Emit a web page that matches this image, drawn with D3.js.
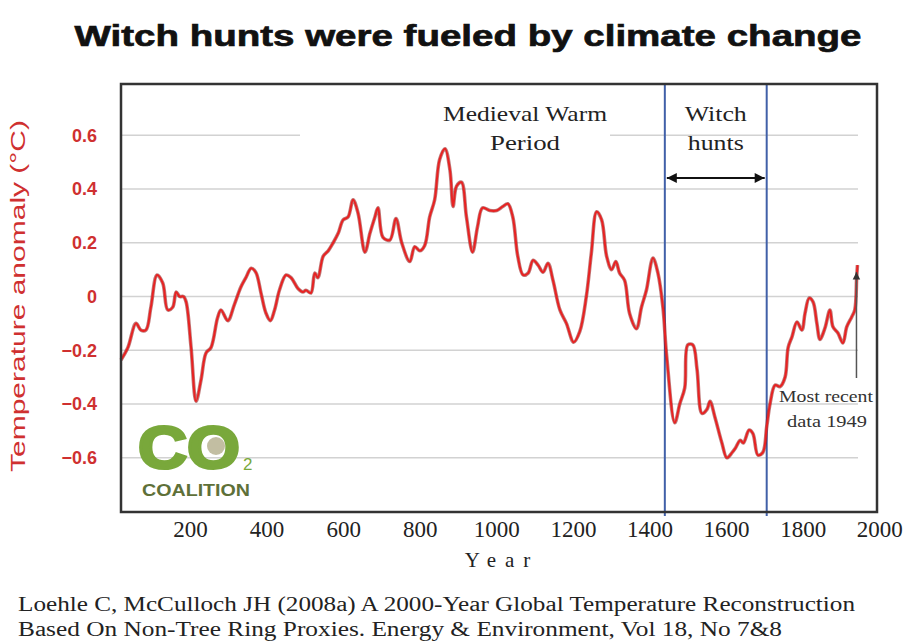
<!DOCTYPE html>
<html>
<head>
<meta charset="utf-8">
<script src="https://cdn.jsdelivr.net/npm/d3@7"></script>
<style>
  body { margin: 0; background: #fff; }
  svg { display: block; }
</style>
</head>
<body>
<div id="wrapper"></div>
<script>
// Loehle & McCulloch reconstruction
let years = [20,38,59,72,85,98,114,129,142,155,164,173,183,190,203,216,229,242,255,272,
  281,299,316,333,346,360,372,386,398,410,421,434,451,464,482,495,503,516,
  526,534,548,561,574,587,600,613,626,639,657,670,683,691,704,722,738,753,774,787,
  800,813,826,839,852,866,879,887,896,909,922,938,951,964,983,1001,1017,
  1030,1043,1056,1070,1083,1096,1109,1122,1135,1148,1166,1183,1202,1218,1235,1248,1262,1275,1288,1301,
  1312,1322,1335,1348,1366,1379,1392,1409,1422,1435,
  1445,1466,1479,1492,1500,1513,1524,1537,1550,1558,1571,1589,1602,1616,1624,1637,1645,1660,1670,1683,
  1696,1706,1715,1728,1741,1754,1762,1772,1785,1798,1806,1817,1827,1837,1845,1858,1871,1879,1892,1905,
  1915,1928,1936,1941,1943];
let anomaly = [-0.236,-0.19,-0.10,-0.125,-0.125,-0.04,0.08,0.05,-0.05,-0.04,0.017,0,0,-0.02,-0.19,-0.39,-0.31,-0.21,-0.19,-0.08,
  -0.05,-0.09,-0.03,0.035,0.07,0.105,0.09,0.01,-0.06,-0.09,-0.05,0.025,0.08,0.07,0.03,0.017,0.023,0.013,
  0.087,0.07,0.15,0.17,0.2,0.235,0.285,0.296,0.36,0.31,0.165,0.235,0.296,0.33,0.22,0.21,0.29,0.2,0.13,0.185,
  0.17,0.19,0.296,0.36,0.51,0.55,0.47,0.335,0.41,0.425,0.296,0.165,0.26,0.33,0.32,0.32,0.335,
  0.345,0.296,0.15,0.08,0.087,0.135,0.117,0.09,0.124,0.06,-0.05,-0.1,-0.17,-0.13,0,0.16,0.315,0.285,0.15,0.1,
  0.13,0.087,0.06,-0.063,-0.12,-0.04,0.024,0.143,0.087,-0.04,
  -0.225,-0.47,-0.4,-0.34,-0.18,-0.18,-0.27,-0.435,-0.42,-0.39,-0.45,-0.545,-0.6,-0.58,-0.565,-0.535,-0.545,-0.497,-0.51,-0.59,
  -0.58,-0.485,-0.397,-0.33,-0.335,-0.3,-0.19,-0.15,-0.095,-0.125,-0.063,-0.006,-0.02,-0.1,-0.16,-0.118,-0.05,-0.113,-0.136,-0.173,
  -0.113,-0.076,-0.05,0.073,0.117];

let xTicks = [200,400,600,800,1000,1200,1400,1600,1800,2000];
let yTicks = [-0.6,-0.4,-0.2,0,0.2,0.4,0.6];
let witchHunts = [1440,1706];
let lastYear = 1943;

let W = 907, H = 644;
let pLeft = 121, pRight = 877, pTop = 84, pBottom = 512;

let svg = d3.select('#wrapper').append('svg')
  .attr('width', W).attr('height', H);

let xscale = d3.scaleLinear().domain([20,1994]).range([pLeft,pRight]);
let yscale = d3.scaleLinear().domain([-0.8,0.8]).range([511.5,81.5]);

let serif = '"Liberation Serif","Times New Roman",serif';
let sans = '"Liberation Sans",Arial,sans-serif';
let red = '#cf3030';

// title
svg.append('text')
  .attr('x', 468).attr('y', 46)
  .attr('text-anchor','middle')
  .attr('textLength', 787).attr('lengthAdjust','spacingAndGlyphs')
  .style('font-family', sans).style('font-weight','bold').style('font-size','30px')
  .style('fill','#111').style('stroke','#111').style('stroke-width',0.7)
  .text('Witch hunts were fueled by climate change');

// gridlines
svg.append('g').selectAll('line')
  .data(yTicks).enter().append('line')
  .attr('x1', pLeft).attr('x2', 858)
  .attr('y1', d => yscale(d)).attr('y2', d => yscale(d))
  .style('stroke','#d2d2d2').style('stroke-width',1.5);

// gap in the top gridline behind the label
svg.append('rect')
  .attr('x', 300).attr('y', yscale(0.6) - 4).attr('width', 310).attr('height', 8)
  .style('fill','#fff');

// y axis labels
let yAxis = d3.axisLeft(yscale).tickValues(yTicks).tickSize(0).tickPadding(0)
  .tickFormat(d => d === 0 ? '0' : d3.format('.1f')(d));
let yg = svg.append('g').attr('transform','translate(97,0)').call(yAxis);
yg.select('.domain').remove();
yg.selectAll('text')
  .style('font-family', sans).style('font-weight','bold').style('font-size','18px')
  .style('fill', red);

svg.append('text')
  .attr('transform','translate(25,296) rotate(-90)')
  .attr('text-anchor','middle')
  .attr('textLength', 352).attr('lengthAdjust','spacingAndGlyphs')
  .style('font-family', sans).style('font-size','20px').style('fill', red)
  .text('Temperature anomaly (°C)');

// x axis labels
let xAxis = d3.axisBottom(xscale).tickValues(xTicks).tickSize(0).tickPadding(0)
  .tickFormat(d3.format('d'));
let xg = svg.append('g').attr('transform','translate(0,' + (pBottom + 9) + ')').call(xAxis);
xg.select('.domain').remove();
xg.selectAll('text')
  .style('font-family', serif).style('font-size','23px').style('fill','#222');

svg.append('text')
  .attr('x', 502).attr('y', 567)
  .attr('text-anchor','middle')
  .style('font-family', serif).style('font-size','21px').style('letter-spacing','9px')
  .style('fill','#222')
  .text('Year');

// logo
let logo = svg.append('g');
logo.append('text')
  .attr('x', 138).attr('y', 468)
  .attr('textLength', 102).attr('lengthAdjust','spacingAndGlyphs')
  .style('font-family', sans).style('font-weight','bold').style('font-size','60px')
  .style('fill','#79a83b').style('stroke','#79a83b').style('stroke-width',3)
  .text('CO');
logo.append('circle')
  .attr('cx', 216).attr('cy', 446).attr('r', 9)
  .style('fill','#a8a27a').style('opacity',0.7);
logo.append('text')
  .attr('x', 243).attr('y', 470)
  .style('font-family', sans).style('font-size','17px')
  .style('fill','#79a83b')
  .text('2');
logo.append('text')
  .attr('x', 142).attr('y', 496)
  .attr('textLength', 108).attr('lengthAdjust','spacingAndGlyphs')
  .style('font-family', sans).style('font-weight','bold').style('font-size','16px')
  .style('fill','#5e7038')
  .text('COALITION');

// witch hunt bounds
svg.append('g').selectAll('line')
  .data(witchHunts).enter().append('line')
  .attr('x1', d => xscale(d)).attr('x2', d => xscale(d))
  .attr('y1', pTop).attr('y2', pBottom + 4)
  .style('stroke','#4160a8').style('stroke-width',2);

// temperature curve
let points = years.map((y,i) => [y, anomaly[i]]);
let line = d3.line()
  .x(d => xscale(d[0])).y(d => yscale(d[1]))
  .curve(d3.curveCatmullRom.alpha(0.5));
svg.append('path')
  .datum(points)
  .attr('d', line)
  .style('fill','none').style('stroke','#8a1010').style('stroke-width',3.6)
  .style('stroke-linejoin','round').style('opacity',0.55);
svg.append('path')
  .datum(points)
  .attr('d', line)
  .style('fill','none').style('stroke','#e82222').style('stroke-width',2)
  .style('stroke-linejoin','round');

// arrow heads
let defs = svg.append('defs');
defs.append('marker')
  .attr('id','ah').attr('viewBox','0 0 10 10')
  .attr('refX',10).attr('refY',5)
  .attr('markerWidth',6).attr('markerHeight',5).attr('markerUnits','strokeWidth')
  .attr('orient','auto-start-reverse')
  .append('path').attr('d','M0,0L10,5L0,10z').style('fill','#111');
defs.append('marker')
  .attr('id','ah2').attr('viewBox','0 0 10 10')
  .attr('refX',10).attr('refY',5)
  .attr('markerWidth',5).attr('markerHeight',6).attr('markerUnits','strokeWidth')
  .attr('orient','auto')
  .append('path').attr('d','M0,0L10,5L0,10z').style('fill','#333');

// witch hunts annotation
svg.append('line')
  .attr('x1', xscale(witchHunts[0]) + 2).attr('x2', xscale(witchHunts[1]) - 2)
  .attr('y1', 178).attr('y2', 178)
  .style('stroke','#111').style('stroke-width',2)
  .attr('marker-start','url(#ah)').attr('marker-end','url(#ah)');

let mid = (xscale(witchHunts[0]) + xscale(witchHunts[1])) / 2;
svg.append('text').attr('x', mid).attr('y', 121).attr('text-anchor','middle')
  .attr('textLength', 62).attr('lengthAdjust','spacingAndGlyphs')
  .style('font-family', serif).style('font-size','22px').style('fill','#222')
  .text('Witch');
svg.append('text').attr('x', mid).attr('y', 150).attr('text-anchor','middle')
  .attr('textLength', 56).attr('lengthAdjust','spacingAndGlyphs')
  .style('font-family', serif).style('font-size','22px').style('fill','#222')
  .text('hunts');

// medieval warm period label
svg.append('text').attr('x', 525).attr('y', 121).attr('text-anchor','middle')
  .attr('textLength', 164).attr('lengthAdjust','spacingAndGlyphs')
  .style('font-family', serif).style('font-size','22px').style('fill','#222')
  .text('Medieval Warm');
svg.append('text').attr('x', 525).attr('y', 150).attr('text-anchor','middle')
  .attr('textLength', 70).attr('lengthAdjust','spacingAndGlyphs')
  .style('font-family', serif).style('font-size','22px').style('fill','#222')
  .text('Period');

// most recent pointer
svg.append('line')
  .attr('x1', xscale(lastYear) - 1).attr('x2', xscale(lastYear) - 1)
  .attr('y1', 378).attr('y2', 272)
  .style('stroke','#555').style('stroke-width',1.5)
  .attr('marker-end','url(#ah2)');
svg.append('text').attr('x', 826).attr('y', 402).attr('text-anchor','middle')
  .attr('textLength', 94).attr('lengthAdjust','spacingAndGlyphs')
  .style('font-family', serif).style('font-size','17px').style('fill','#333')
  .text('Most recent');
svg.append('text').attr('x', 827).attr('y', 427).attr('text-anchor','middle')
  .attr('textLength', 80).attr('lengthAdjust','spacingAndGlyphs')
  .style('font-family', serif).style('font-size','17px').style('fill','#333')
  .text('data 1949');

// frame
svg.append('rect')
  .attr('x', pLeft).attr('y', pTop)
  .attr('width', pRight - pLeft).attr('height', pBottom - pTop)
  .style('fill','none').style('stroke','#333').style('stroke-width',2.5);

// source
svg.append('text').attr('x', 18).attr('y', 611)
  .attr('textLength', 837).attr('lengthAdjust','spacingAndGlyphs')
  .style('font-family', serif).style('font-size','20px').style('fill','#222')
  .text('Loehle C, McCulloch JH (2008a) A 2000-Year Global Temperature Reconstruction');
svg.append('text').attr('x', 18).attr('y', 636)
  .attr('textLength', 764).attr('lengthAdjust','spacingAndGlyphs')
  .style('font-family', serif).style('font-size','20px').style('fill','#222')
  .text('Based On Non-Tree Ring Proxies. Energy & Environment, Vol 18, No 7&8');
</script>
</body>
</html>
